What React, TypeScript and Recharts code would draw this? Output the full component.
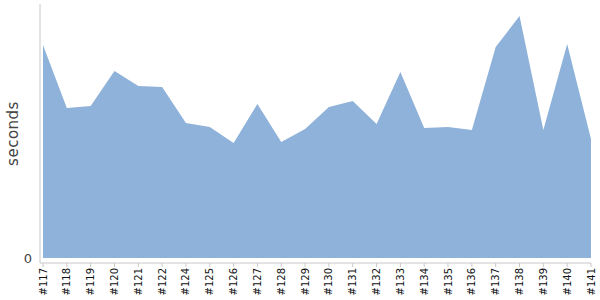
import React from 'react';
import { AreaChart, Area, XAxis, YAxis, Label } from 'recharts';

const builds = [
  '#117', '#118', '#119', '#120', '#121', '#122', '#124', '#125', '#126', '#127', '#128', '#129',
  '#130', '#131', '#132', '#133', '#134', '#135', '#136', '#137', '#138', '#139', '#140', '#141',
];
const durations = [
  213, 150, 152, 187, 172, 171, 135, 131, 115, 154, 116, 129,
  151, 157, 134, 186, 130, 131, 128, 211, 242, 128, 214, 119,
];
const yTicks = [0];

const data = builds.map((name, i) => ({ name, seconds: durations[i] }));

const font = '"DejaVu Sans", sans-serif';

function BuildTick(props: any) {
  const { x, y, payload } = props;
  return (
    <g transform={`translate(${x},${y})`}>
      <text
        transform="rotate(-90)"
        textAnchor="end"
        dy="0.35em"
        fontSize={10}
        fontFamily={font}
        fill="#111"
      >
        {payload.value}
      </text>
    </g>
  );
}

export default function App() {
  return (
    <div style={{ position: 'absolute', left: 0, top: 0, width: 600, height: 300 }}>
      <AreaChart width={600} height={300} data={data} margin={{ top: 4, right: 9, bottom: 0, left: 0 }}>
        <XAxis
          dataKey="name"
          interval={0}
          height={37}
          padding={{ left: 3, right: 0 }}
          axisLine={{ stroke: '#c8c8c8' }}
          tickLine={{ stroke: '#c8c8c8' }}
          tickSize={4}
          tickMargin={1}
          tick={<BuildTick />}
        />
        <YAxis
          width={40}
          domain={[0, 254]}
          ticks={yTicks}
          padding={{ top: 0, bottom: 5 }}
          axisLine={{ stroke: '#c8c8c8' }}
          tickLine={false}
          tick={{ fontSize: 13, fontFamily: font, fill: '#444' }}
        >
          <Label
            value="seconds"
            angle={-90}
            position="insideLeft"
            offset={13}
            style={{ fontSize: 15, fontFamily: font, fill: '#444', textAnchor: 'middle', letterSpacing: 0.5 }}
          />
        </YAxis>
        <Area
          type="linear"
          dataKey="seconds"
          stroke="none"
          fill="#8fb2da"
          fillOpacity={1}
          isAnimationActive={false}
        />
      </AreaChart>
    </div>
  );
}
